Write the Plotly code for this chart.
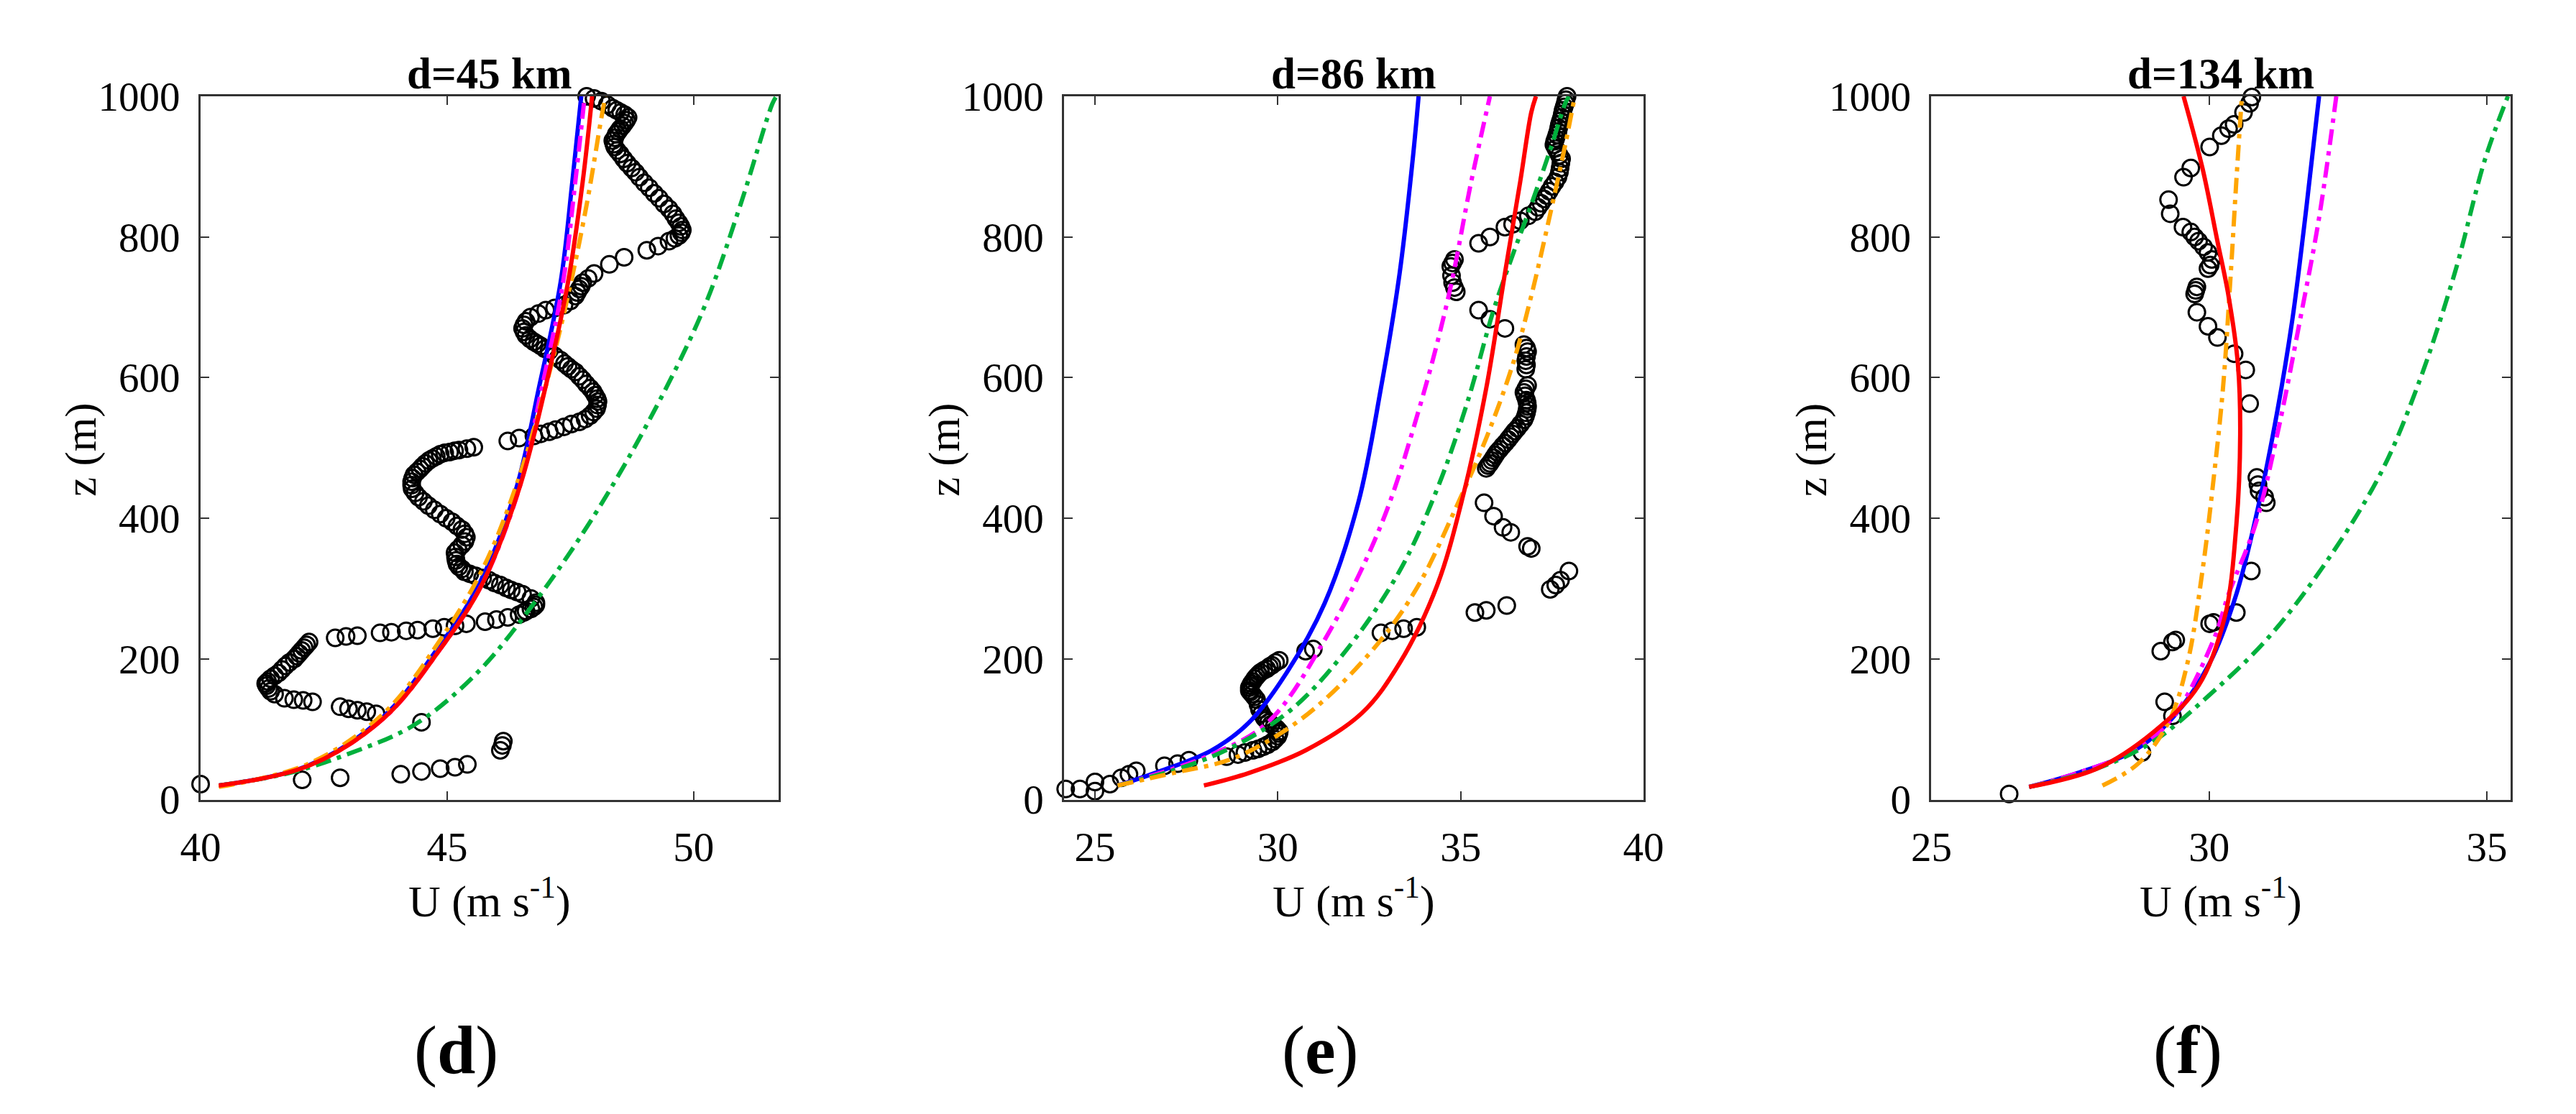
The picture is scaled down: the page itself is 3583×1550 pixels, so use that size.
import plotly.graph_objects as go
from plotly.subplots import make_subplots

# ---- panel (d): d=45 km ----
u_obs_d = [40.0, 42.06, 42.83, 44.06, 44.48, 44.86, 45.16, 45.41, 46.08, 46.12, 46.14, 44.48,
           43.56, 43.37, 43.18, 43.0, 42.83, 42.27, 42.08, 41.89, 41.7,
           41.5, 41.42, 41.38, 41.34, 41.32, 41.36, 41.42, 41.5, 41.58, 41.65, 41.72, 41.8, 41.9, 41.95,
           42.0, 42.05, 42.1, 42.15, 42.2,
           42.73, 42.95, 43.18, 43.64, 43.87, 44.17, 44.4, 44.71, 44.94, 45.16, 45.39, 45.77, 46.0, 46.23,
           46.46, 46.55, 46.6, 46.7, 46.76, 46.8, 46.8, 46.7,
           46.53, 46.42, 46.3, 46.2, 46.08, 45.96, 45.85, 45.72, 45.58, 45.46, 45.35, 45.3, 45.24, 45.2,
           45.18, 45.17, 45.16, 45.22, 45.3, 45.36, 45.39, 45.36, 45.3, 45.2, 45.1, 44.98, 44.86, 44.74,
           44.62, 44.52, 44.42, 44.35, 44.29, 44.28, 44.28, 44.3, 44.33, 44.39, 44.45, 44.5, 44.56, 44.63,
           44.7, 44.78, 44.86, 44.95, 45.05, 45.15, 45.24, 45.4, 45.54,
           46.23, 46.46, 46.76, 46.9, 47.07, 47.2, 47.37, 47.52, 47.68, 47.8, 47.9, 47.97, 48.03, 48.05,
           48.06, 48.04, 48.0, 47.96, 47.9, 47.82, 47.75, 47.68, 47.6, 47.52, 47.45, 47.38, 47.3, 47.18,
           47.07, 46.98, 46.9, 46.83, 46.76, 46.68, 46.6, 46.56, 46.53, 46.56, 46.6, 46.69, 46.85, 47.0,
           47.18, 47.37, 47.5, 47.6, 47.64, 47.68, 47.72, 47.75, 47.86, 47.98,
           48.29, 48.59, 49.05, 49.28, 49.5, 49.62, 49.7, 49.75, 49.77, 49.74, 49.7, 49.64, 49.58, 49.5,
           49.4, 49.3, 49.2, 49.1, 49.0, 48.9, 48.82, 48.74, 48.65, 48.58, 48.51, 48.45, 48.4, 48.38,
           48.36, 48.4, 48.43, 48.47, 48.51, 48.56, 48.6, 48.64, 48.67, 48.6, 48.52, 48.44, 48.36, 48.25,
           48.13, 47.98, 47.83]
z_obs_d = [22, 28, 31, 36, 40, 44, 46, 50, 70, 77, 83, 110,
           122, 125, 127, 129, 132, 139, 141, 142, 144,
           150, 154, 158, 162, 165, 168, 172, 176, 180, 185, 190, 195, 200, 204,
           208, 212, 216, 220, 224,
           230, 232, 233, 237, 238, 240, 241, 243, 245, 247, 250, 253, 256, 259,
           263, 266, 268, 271, 274, 277, 280, 286,
           292, 295, 298, 301, 305, 308, 312, 315, 318, 321, 324, 328, 331, 335,
           340, 345, 351, 356, 362, 367, 373, 378, 384, 389, 395, 400, 406, 412,
           418, 424, 430, 436, 442, 447, 452, 457, 462, 466, 470, 474, 478, 482,
           485, 488, 491, 493, 494, 496, 497, 499, 501,
           510, 514, 517, 520, 523, 526, 530, 534, 537, 541, 546, 551, 556, 561,
           566, 570, 575, 580, 585, 591, 597, 602, 608, 612, 616, 620, 625, 631,
           638, 641, 645, 648, 651, 655, 660, 665, 670, 675, 680, 686, 691, 696,
           699, 703, 709, 716, 721, 726, 730, 735, 741, 748,
           761, 771, 781, 787, 794, 798, 802, 806, 810, 815, 820, 826, 833, 840,
           847, 855, 862, 870, 877, 885, 892, 898, 905, 911, 918, 923, 928, 932,
           937, 941, 946, 950, 954, 958, 962, 966, 970, 974, 977, 980, 983, 988,
           993, 997, 1000]

z_fit_d = [20, 48, 116, 214, 305, 442, 585, 735, 879, 1000]
u_blue_d = [40.37, 42.17, 43.68, 44.8, 45.64, 46.4, 46.86, 47.3, 47.54, 47.72]
u_magenta_d = [40.37, 42.19, 43.72, 44.86, 45.7, 46.46, 46.92, 47.35, 47.6, 47.79]
u_red_d = [40.37, 42.19, 43.72, 44.86, 45.7, 46.46, 46.99, 47.45, 47.75, 47.94]
z_green_d = [20, 38, 64, 106, 181, 279, 396, 533, 696, 846, 990, 1000]
u_green_d = [40.37, 41.81, 42.96, 44.33, 45.62, 46.76, 47.91, 49.05, 50.19, 50.95, 51.6, 51.68]
z_orange_d = [18, 51, 123, 227, 325, 442, 585, 716, 846, 970, 1000]
u_orange_d = [40.37, 42.19, 43.72, 44.86, 45.7, 46.38, 46.99, 47.45, 47.83, 48.13, 48.21]

# ---- panel (e): d=86 km ----
u_obs_e = [24.2, 24.59, 25.0, 25.0, 25.41, 25.72, 25.93, 26.13,
           26.9, 27.26, 27.57,
           28.6, 28.91, 29.1, 29.32, 29.46, 29.6, 29.72, 29.85, 29.93, 30.0, 30.03, 30.04, 29.97, 29.9,
           29.82, 29.75, 29.69, 29.63, 29.56, 29.5, 29.46, 29.42, 29.36, 29.3, 29.25, 29.22, 29.22, 29.25,
           29.28, 29.32, 29.37, 29.42, 29.47, 29.53, 29.62, 29.7, 29.77, 29.84, 29.94, 30.04,
           30.76, 30.97,
           32.82, 33.13, 33.44, 33.8,
           35.39, 35.7, 36.26,
           37.45, 37.6, 37.73, 37.96,
           36.93, 36.83, 36.37, 36.16, 35.9, 35.64,
           35.7, 35.75, 35.8, 35.85, 35.9, 35.95, 36.0, 36.07, 36.15, 36.22, 36.3, 36.36, 36.42, 36.48,
           36.55, 36.64, 36.73, 36.77, 36.8, 36.82, 36.83, 36.82, 36.8, 36.76, 36.73, 36.78, 36.83,
           36.78, 36.8, 36.78, 36.8, 36.83, 36.8, 36.73,
           36.21, 35.8, 35.49,
           34.88, 34.83, 34.78, 34.75, 34.73, 34.78, 34.83,
           35.49, 35.8, 36.21, 36.42, 36.63, 36.85,
           37.04, 37.12, 37.2, 37.28, 37.35, 37.42, 37.5, 37.58, 37.66, 37.7, 37.72, 37.74, 37.76, 37.7,
           37.65, 37.6, 37.55, 37.57, 37.6, 37.63, 37.66, 37.68, 37.7, 37.73, 37.76, 37.78, 37.8, 37.83,
           37.86, 37.88, 37.91]
z_obs_e = [15, 15, 12, 25, 22, 31, 36, 41,
           48, 51, 56,
           61, 64, 67, 70, 72, 75, 78, 82, 86, 90, 94, 97, 101, 104,
           107, 110, 113, 116, 122, 128, 135, 142, 146, 150, 153, 155, 159, 162,
           165, 168, 172, 175, 178, 181, 184, 186, 189, 191, 195, 198,
           211, 214,
           237, 240, 243, 245,
           266, 269, 276,
           299, 305, 312, 325,
           357, 360, 380, 387, 403, 422,
           471, 475, 478, 482, 486, 490, 494, 498, 503, 507, 512, 516, 520, 524,
           528, 534, 540, 545, 550, 555, 559, 564, 568, 574, 579, 584, 589,
           612, 618, 624, 630, 637, 642, 647,
           670, 683, 696,
           722, 728, 735, 745, 758, 763, 768,
           791, 800, 814, 818, 823, 830,
           836, 842, 848, 854, 859, 865, 872, 878, 885, 892, 898, 905, 911, 916,
           921, 926, 931, 936, 940, 945, 950, 955, 960, 965, 970, 975, 980, 985,
           990, 995, 1000]

z_blue_e = [20, 38, 70, 110, 181, 279, 422, 585, 748, 911, 1000]
u_blue_e = [25.62, 26.65, 28.19, 29.22, 30.25, 31.28, 32.2, 32.82, 33.33, 33.69, 33.85]
z_magenta_e = [20, 64, 110, 227, 390, 553, 716, 879, 1000]
u_magenta_e = [25.62, 28.19, 29.73, 31.28, 32.82, 33.85, 34.67, 35.29, 35.8]
z_green_e = [20, 61, 123, 207, 325, 442, 566, 696, 774, 846, 924, 990, 1000]
u_green_e = [25.62, 28.19, 30.25, 31.79, 33.33, 34.36, 35.19, 35.9, 36.42, 36.93, 37.45, 37.86, 37.96]
z_orange_e = [20, 38, 57, 93, 142, 227, 305, 416, 514, 618, 716, 833, 931, 1000]
u_orange_e = [25.62, 27.16, 28.7, 30.04, 31.28, 32.82, 33.85, 34.88, 35.7, 36.42, 36.93, 37.45, 37.86, 38.12]
z_red_e = [20, 38, 70, 123, 194, 305, 435, 585, 748, 879, 977, 1000]
u_red_e = [27.98, 29.22, 30.76, 32.3, 33.33, 34.36, 35.08, 35.7, 36.21, 36.63, 36.93, 37.06]

# ---- panel (f): d=134 km ----
u_obs_f = [26.4, 28.79, 29.34, 29.2, 29.13, 29.34, 29.4, 30.01, 30.08, 30.49, 30.76,
           31.03, 31.0, 30.9, 30.88, 30.86, 30.73, 30.66, 30.45, 30.15, 29.98, 29.78, 29.74, 29.76, 29.78,
           29.98, 30.02, 30.05, 29.98, 29.9, 29.81, 29.74, 29.67, 29.53, 29.3, 29.27, 29.54, 29.67,
           30.01, 30.22, 30.35, 30.45, 30.62, 30.73, 30.77]
z_obs_f = [8, 67, 119, 139, 211, 224, 227, 250, 252, 266, 325,
           422, 430, 439, 448, 458, 563, 611, 634, 657, 673, 693, 719, 724, 729,
           755, 760, 768, 778, 786, 794, 800, 807, 814, 833, 853, 885, 898,
           928, 944, 954, 960, 977, 990, 999]

z_blue_f = [18, 38, 70, 116, 194, 292, 422, 553, 683, 814, 931, 1000]
u_blue_f = [26.76, 27.64, 28.66, 29.34, 30.01, 30.49, 30.9, 31.23, 31.5, 31.71, 31.88, 31.98]
z_magenta_f = [18, 38, 70, 116, 227, 292, 390, 520, 683, 827, 1000]
u_magenta_f = [26.76, 27.64, 28.66, 29.34, 30.08, 30.35, 30.83, 31.23, 31.64, 31.98, 32.29]
z_green_f = [18, 44, 83, 149, 227, 331, 461, 585, 748, 911, 1000]
u_green_f = [26.76, 27.98, 29.0, 30.01, 31.03, 32.05, 33.07, 33.74, 34.42, 34.97, 35.38]
z_orange_f = [20, 51, 110, 194, 325, 455, 585, 748, 879, 1000]
u_orange_f = [28.08, 28.72, 29.27, 29.61, 29.88, 30.08, 30.25, 30.39, 30.49, 30.59]
z_red_f = [18, 44, 96, 162, 259, 390, 520, 618, 716, 794, 898, 1000]
u_red_f = [26.76, 27.98, 29.0, 29.81, 30.28, 30.49, 30.56, 30.52, 30.35, 30.15, 29.88, 29.54]

titles = ["d=45 km", "d=86 km", "d=134 km"]
panel_tags = ["d", "e", "f"]
x_ranges = [[40, 51.72], [24.16, 40], [25, 35.43]]
x_ticks = [[40, 45, 50], [25, 30, 35, 40], [25, 30, 35]]
y_ticks = [0, 200, 400, 600, 800, 1000]

W, H = 3583, 1550
x_px = [(246, 1063), (1467, 2286), (2693, 3512)]
y_top, y_bot = 99, 1119

FONT = "Liberation Serif"
DASHDOT = "22px,9px,6px,9px"

panels = [
    dict(obs=(u_obs_d, z_obs_d),
         blue=(u_blue_d, z_fit_d), magenta=(u_magenta_d, z_fit_d),
         green=(u_green_d, z_green_d), orange=(u_orange_d, z_orange_d), red=(u_red_d, z_fit_d)),
    dict(obs=(u_obs_e, z_obs_e),
         blue=(u_blue_e, z_blue_e), magenta=(u_magenta_e, z_magenta_e),
         green=(u_green_e, z_green_e), orange=(u_orange_e, z_orange_e), red=(u_red_e, z_red_e)),
    dict(obs=(u_obs_f, z_obs_f),
         blue=(u_blue_f, z_blue_f), magenta=(u_magenta_f, z_magenta_f),
         green=(u_green_f, z_green_f), orange=(u_orange_f, z_orange_f), red=(u_red_f, z_red_f)),
]

line_styles = {
    "blue": dict(color="#0000FF", dash="solid"),
    "magenta": dict(color="#FF00FF", dash=DASHDOT),
    "green": dict(color="#00B03C", dash=DASHDOT),
    "orange": dict(color="#FFA500", dash=DASHDOT),
    "red": dict(color="#FF0000", dash="solid"),
}

fig = make_subplots(rows=1, cols=3)

for i, p in enumerate(panels):
    col = i + 1
    u, z = p["obs"]
    fig.add_trace(go.Scatter(x=u, y=z, mode="markers", cliponaxis=False,
                             marker=dict(symbol="circle-open", size=23, color="black",
                                         line=dict(width=3, color="black")),
                             showlegend=False), row=1, col=col)
    for name in ["blue", "magenta", "green", "orange", "red"]:
        uu, zz = p[name]
        st = line_styles[name]
        fig.add_trace(go.Scatter(x=uu, y=zz, mode="lines", line_shape="spline",
                                 line=dict(color=st["color"], width=6, dash=st["dash"], smoothing=1.0),
                                 showlegend=False), row=1, col=col)

axis_common = dict(showline=True, linecolor="#333333", linewidth=3, mirror="ticks",
                   ticks="inside", ticklen=12, tickwidth=2, tickcolor="#333333",
                   showgrid=False, zeroline=False,
                   tickfont=dict(family=FONT, size=57, color="black"))

annotations = []
for i in range(3):
    x0, x1 = x_px[i]
    dom = [x0 / W, x1 / W]
    fig.update_xaxes(dict(axis_common, domain=dom, range=x_ranges[i], tickvals=x_ticks[i],
                          ticklabelstandoff=14), row=1, col=i + 1)
    fig.update_yaxes(dict(axis_common, domain=[1 - y_bot / H, 1 - y_top / H], range=[0, 1000],
                          tickvals=y_ticks, ticklabelstandoff=14), row=1, col=i + 1)
    xc = (x0 + x1) / 2 / W
    common = dict(xref="paper", yref="paper", showarrow=False, xanchor="center", yanchor="middle")
    annotations.append(dict(common, text="<b>" + titles[i] + "</b>", x=xc, y=1 - 66 / H,
                            font=dict(family=FONT, size=61, color="black")))
    annotations.append(dict(common, text="U (m s<sup>-1</sup>)", x=xc, y=1 - 1262 / H,
                            font=dict(family=FONT, size=62, color="black")))
    annotations.append(dict(common, text="z (m)", x=(x0 - 169) / W, y=1 - 612 / H, textangle=-90,
                            font=dict(family=FONT, size=61, color="black")))
    annotations.append(dict(common, text="(<b>" + panel_tags[i] + "</b>)", x=(xc * W - 47) / W,
                            y=1 - 1482 / H, font=dict(family=FONT, size=96, color="black")))

fig.update_layout(width=W, height=H, margin=dict(l=0, r=0, t=0, b=0),
                  paper_bgcolor="white", plot_bgcolor="white", annotations=annotations)

fig.write_html("out.html")
